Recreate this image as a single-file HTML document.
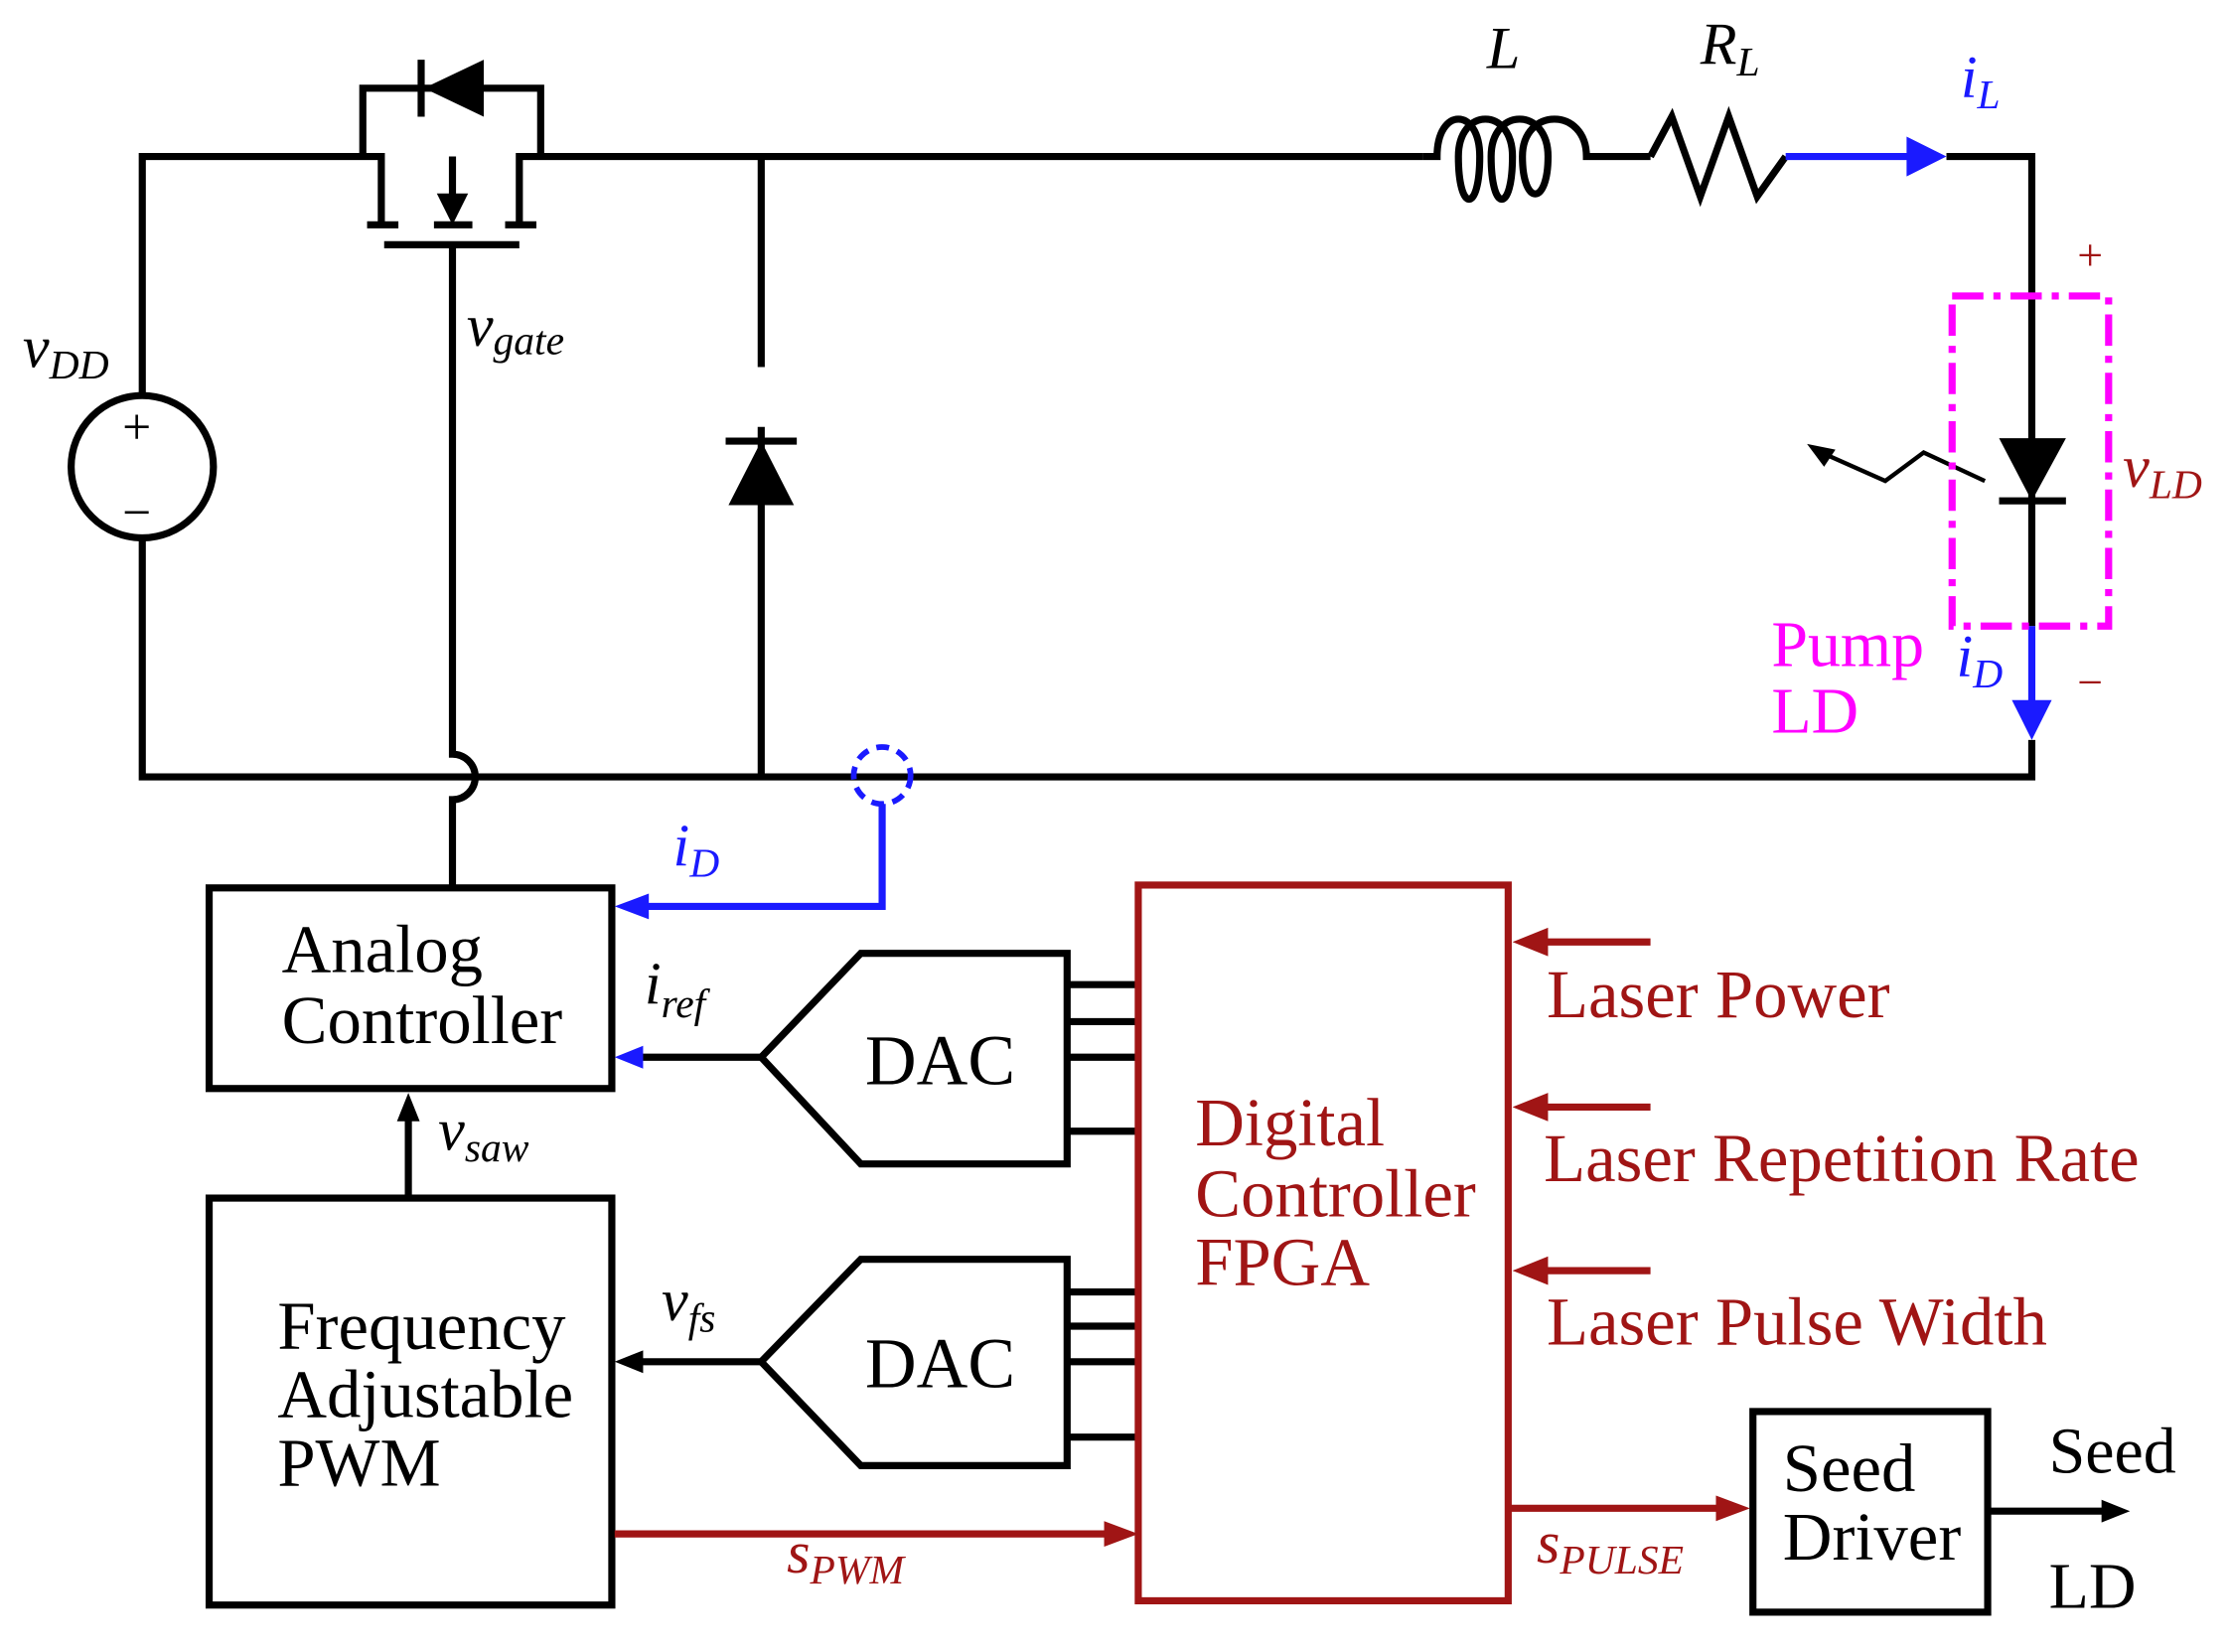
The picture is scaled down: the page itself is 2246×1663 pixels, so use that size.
<!DOCTYPE html>
<html><head><meta charset="utf-8"><style>
html,body{margin:0;padding:0;background:#fff;}
svg{display:block;}
text{font-family:"Liberation Serif",serif;}
</style></head><body>
<svg width="2246" height="1663" viewBox="0 0 1568 1161" preserveAspectRatio="none" xmlns="http://www.w3.org/2000/svg">
<g stroke="#000" stroke-width="5" fill="none">
<path d="M100,278 V110 H268 V158"/>
<path d="M100,378 V546 H1428 V520"/>
<circle cx="100" cy="328" r="50"/>
<path d="M365,158 V110 H1000"/>
<path d="M255,110 V62 H380 V110"/>
<path d="M258,158 H280 M305,158 H332 M355,158 H377"/>
<path d="M270,172 H365" />
<path d="M318,110 V140"/>
<path d="M318,172 V530 A16,16 0 0 1 318,562 V622"/>
<path d="M535,110 V258 M535,300 V546"/>
<path d="M510,310 H560"/>
<path d="M1000,110 H1010 C1010,75 1040,75 1040,110 C1040,150 1025,150 1025,110 C1025,75 1063,75 1063,110 C1063,150 1048,150 1048,110 C1048,75 1088,75 1088,110 C1088,145 1070,145 1070,110 C1070,75 1115,75 1115,110 H1160"/>
<path d="M1160,110 L1175,82 L1195,138 L1215,82 L1235,138 L1255,110"/>
<path d="M1368,110 H1428 V440"/>
<path d="M1405,352 H1452"/>
<path d="M1395,338 L1352,318 L1325,338 L1280,318" stroke-width="3"/>
<rect x="147" y="624" width="283" height="141"/>
<rect x="147" y="842" width="283" height="286"/>
<rect x="1232" y="992" width="165" height="141"/>
<path d="M535,743 L605,670 H750 V818 H605 Z"/>
<path d="M535,957 L605,885 H750 V1030 H605 Z"/>
<path d="M750,692 H798 M750,718 H798 M750,743 H798 M750,795 H798"/>
<path d="M750,908 H798 M750,932 H798 M750,957 H798 M750,1010 H798"/>
<path d="M535,743 H445"/>
<path d="M535,957 H445"/>
<path d="M287,842 V780"/>
<path d="M1397,1062 H1480"/>
</g>
<path d="M298,62 L340,42 L340,82 Z" fill="#000"/>
<path d="M296,42 V82" stroke="#000" stroke-width="5"/>
<path d="M318,158 L307,136 L329,136 Z" fill="#000"/>
<path d="M535,310 L512,355 L558,355 Z" fill="#000"/>
<path d="M1428,352 L1405,308 L1452,308 Z" fill="#000"/>
<path d="M1270,312 L1290,316 L1282,328 Z" fill="#000"/>
<path d="M432,743 L452,735 L452,751 Z" fill="#1a1aff"/>
<path d="M432,957 L452,949 L452,965 Z" fill="#000"/>
<path d="M287,768 L279,788 L295,788 Z" fill="#000"/>
<path d="M1497,1062 L1477,1054 L1477,1070 Z" fill="#000"/>
<g stroke="#1a1aff" stroke-width="5" fill="none">
<path d="M1255,110 H1345"/>
<path d="M1428,440 V500"/>
<path d="M620,565 V637 H450"/>
<circle cx="620" cy="545" r="20" stroke-dasharray="9,6" stroke-width="4"/>
</g>
<path d="M1368,110 L1340,96 L1340,124 Z" fill="#1a1aff"/>
<path d="M1428,520 L1414,492 L1442,492 Z" fill="#1a1aff"/>
<path d="M432,637 L456,628 L456,646 Z" fill="#1a1aff"/>
<rect x="1372" y="208" width="110" height="232" fill="none" stroke="#ff00ff" stroke-width="5" stroke-dasharray="22,7,5,7"/>
<g stroke="#a01515" stroke-width="5" fill="none">
<rect x="800" y="622" width="260" height="503"/>
<path d="M1160,662 H1080 M1160,778 H1080 M1160,893 H1080"/>
<path d="M432,1078 H780"/>
<path d="M1060,1060 H1210"/>
</g>
<path d="M1063,662 L1088,652 L1088,672 Z" fill="#a01515"/>
<path d="M1063,778 L1088,768 L1088,788 Z" fill="#a01515"/>
<path d="M1063,893 L1088,883 L1088,903 Z" fill="#a01515"/>
<path d="M800,1078 L776,1069 L776,1087 Z" fill="#a01515"/>
<path d="M1230,1060 L1206,1051 L1206,1069 Z" fill="#a01515"/>
<g font-size="40" fill="#000">
<text x="86" y="312" font-size="36">+</text>
<text x="86" y="372" font-size="36">−</text>
<text x="16" y="258" font-style="italic" font-size="42">v<tspan font-size="29" dy="8">DD</tspan></text>
<text x="328" y="243" font-style="italic" font-size="42">v<tspan font-size="29" dy="6">gate</tspan></text>
<text x="1045" y="48" font-style="italic" font-size="42">L</text>
<text x="1195" y="45" font-style="italic" font-size="42">R<tspan font-size="29" dy="8">L</tspan></text>
<text x="198" y="683" font-size="48">Analog</text>
<text x="198" y="733" font-size="48">Controller</text>
<text x="453" y="705" font-style="italic" font-size="42">i<tspan font-size="29" dy="10">ref</tspan></text>
<text x="308" y="808" font-style="italic" font-size="42">v<tspan font-size="29" dy="8">saw</tspan></text>
<text x="465" y="928" font-style="italic" font-size="42">v<tspan font-size="29" dy="8">fs</tspan></text>
<text x="608" y="762" font-size="50">DAC</text>
<text x="608" y="975" font-size="50">DAC</text>
<text x="195" y="948" font-size="48">Frequency</text>
<text x="195" y="996" font-size="48">Adjustable</text>
<text x="195" y="1044" font-size="48">PWM</text>
<text x="1253" y="1048" font-size="48">Seed</text>
<text x="1253" y="1096" font-size="48">Driver</text>
<text x="1440" y="1035" font-size="46">Seed</text>
<text x="1440" y="1130" font-size="46">LD</text>
</g>
<g fill="#1a1aff" font-style="italic" font-size="42">
<text x="1378" y="68">i<tspan font-size="29" dy="8">L</tspan></text>
<text x="1375" y="475">i<tspan font-size="29" dy="8">D</tspan></text>
<text x="473" y="608">i<tspan font-size="29" dy="8">D</tspan></text>
</g>
<g fill="#ff00ff" font-size="46">
<text x="1245" y="468">Pump</text>
<text x="1245" y="515">LD</text>
</g>
<g fill="#a01515" font-size="48">
<text x="1460" y="190" font-size="32">+</text>
<text x="1460" y="490" font-size="32">−</text>
<text x="1492" y="342" font-style="italic" font-size="42">v<tspan font-size="29" dy="8">LD</tspan></text>
<text x="840" y="805">Digital</text>
<text x="840" y="855">Controller</text>
<text x="840" y="903">FPGA</text>
<text x="1087" y="715">Laser Power</text>
<text x="1085" y="830">Laser Repetition Rate</text>
<text x="1087" y="945">Laser Pulse Width</text>
<text x="553" y="1105" font-style="italic" font-size="42">s<tspan font-size="29" dy="8">PWM</tspan></text>
<text x="1080" y="1098" font-style="italic" font-size="42">s<tspan font-size="29" dy="8">PULSE</tspan></text>
</g>
</svg>
</body></html>
